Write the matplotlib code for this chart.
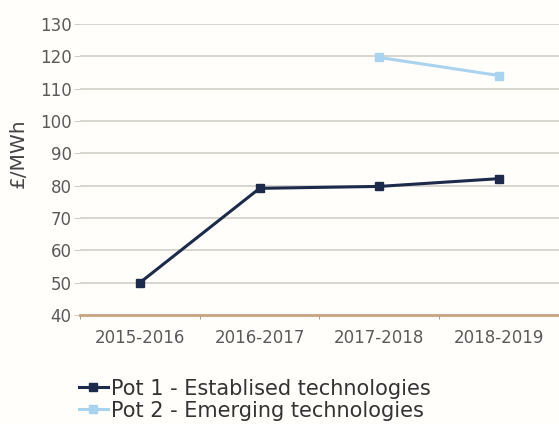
import matplotlib.pyplot as plt
import numpy as np

years = ["2015-2016", "2016-2017", "2017-2018", "2018-2019"]
pot1 = [50, 79.2, 79.8, 82.2]
pot2 = [np.nan, np.nan, 119.7, 114.1]
yticks = [40, 50, 60, 70, 80, 90, 100, 110, 120, 130]

plt.rcParams['font.family'] = ['DejaVu Sans']

fig = plt.figure(figsize=(5.59, 4.24), dpi=100)
fig.patch.set_facecolor('#fffefa')
ax = fig.add_axes([0.143, 0.257, 0.857, 0.686])
ax.set_facecolor('#fffefa')

x = np.arange(len(years))
ax.plot(x, pot1, color='#1c2b4b', lw=2.2, marker='s', ms=6,
        label='Pot 1 - Establised technologies')
ax.plot(x, pot2, color='#a9d3ef', lw=2.2, marker='s', ms=6,
        label='Pot 2 - Emerging technologies')

ax.set_xlim(-0.5, 3.5)
ax.set_ylim(40, 130)
ax.set_yticks(yticks)
ax.set_xticks(x)
ax.set_xticklabels(years)
ax.set_xticks(np.arange(-0.5, 4, 1), minor=True)
ax.grid(axis='y', color='#d2cfc8', lw=1.2)
ax.set_axisbelow(True)
for s in ['top', 'right', 'left']:
    ax.spines[s].set_visible(False)
ax.spines['bottom'].set_color('#c9a47e')
ax.spines['bottom'].set_linewidth(2)
ax.tick_params(axis='x', which='major', length=0, pad=10, labelsize=12, labelcolor='#5a5a5a')
ax.tick_params(axis='x', which='minor', length=3, color='#a08a70')
ax.tick_params(axis='y', length=4, color='#d2cfc8', labelsize=12, labelcolor='#5a5a5a', pad=2)
ax.set_ylabel('£/MWh', fontsize=14.5, color='#444444')
ax.yaxis.set_label_coords(-0.109, 0.555)

ax.legend(loc='upper left', bbox_to_anchor=(-0.02, -0.19), frameon=False,
          fontsize=15, handlelength=1.4, handletextpad=0.15, labelspacing=0.1,
          labelcolor='#333333', borderaxespad=0)

fig.savefig('out.png', dpi=100, facecolor=fig.get_facecolor())
